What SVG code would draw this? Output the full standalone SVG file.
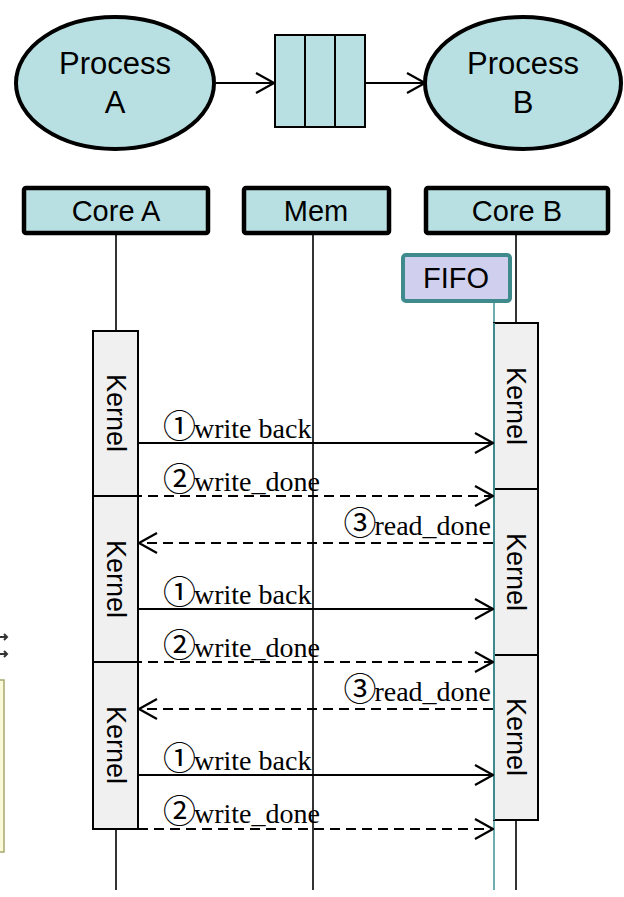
<svg xmlns="http://www.w3.org/2000/svg" width="624" height="897" viewBox="0 0 624 897">
<defs>
<style>
.proc{fill:#b8e0e3;stroke:#000;stroke-width:4}
.core{fill:#b8e0e3;stroke:#000;stroke-width:4.5}
.sans{font-family:"Liberation Sans",Arial,sans-serif;fill:#000}
.big{font-size:31px}
.hdr{font-size:29px}
.kern{fill:#f0f0f0;stroke:#000;stroke-width:2}
.ktxt{font-family:"Liberation Sans",Arial,sans-serif;font-size:27px;fill:#000}
.life{stroke:#000;stroke-width:1.6;fill:none}
.msg{stroke:#000;stroke-width:2;fill:none}
.dash{stroke-dasharray:10 6}
.lbl{font-family:"Liberation Serif","Times New Roman","Noto Sans CJK JP",serif;font-size:28px;fill:#000}
.num{font-family:"Noto Sans CJK JP","Noto Sans CJK SC",sans-serif;font-size:33px}
</style>
<marker id="arr" viewBox="0 0 20 22" markerWidth="20" markerHeight="22" refX="19" refY="11" orient="auto" markerUnits="userSpaceOnUse">
<path d="M1,1 L19,11 L1,21" fill="none" stroke="#000" stroke-width="2.2"/>
</marker>
</defs>

<!-- left edge fragments -->
<g id="edge-fragment">
<rect x="-20" y="680" width="24" height="172" fill="#fafad8" stroke="#a8a870" stroke-width="1.5"/>
<path d="M0,637 L7,637 M4,634 L7,637 L4,640" stroke="#333" stroke-width="2" fill="none"/>
<path d="M0,654 L7,654 M4,651 L7,654 L4,657" stroke="#333" stroke-width="2" fill="none"/>
</g>

<!-- top process diagram -->
<g id="process-a">
<ellipse class="proc" cx="115" cy="83" rx="99" ry="66"/>
<text class="sans big" x="115" y="74" text-anchor="middle">Process</text>
<text class="sans big" x="115" y="113" text-anchor="middle">A</text>
</g>
<g id="queue">
<rect x="275" y="35" width="90" height="92" fill="#b8e0e3" stroke="#000" stroke-width="2"/>
<line x1="305" y1="35" x2="305" y2="127" stroke="#000" stroke-width="2"/>
<line x1="335" y1="35" x2="335" y2="127" stroke="#000" stroke-width="2"/>
</g>
<g id="process-b">
<ellipse class="proc" cx="523" cy="83" rx="98" ry="66"/>
<text class="sans big" x="523" y="74" text-anchor="middle">Process</text>
<text class="sans big" x="523" y="113" text-anchor="middle">B</text>
</g>

<!-- lifeline headers -->
<g id="core-a">
<rect class="core" x="24" y="188" width="184" height="45" rx="2"/>
<text class="sans hdr" x="116" y="221" text-anchor="middle">Core A</text>
</g>
<g id="mem">
<rect class="core" x="244" y="188" width="145" height="45" rx="2"/>
<text class="sans hdr" x="316" y="221" text-anchor="middle">Mem</text>
</g>
<g id="core-b">
<rect class="core" x="426" y="188" width="182" height="45" rx="2"/>
<text class="sans hdr" x="517" y="221" text-anchor="middle">Core B</text>
</g>

<!-- lifelines -->
<g id="lifelines">
<line class="life" x1="116" y1="233" x2="116" y2="890"/>
<line class="life" x1="313" y1="233" x2="313" y2="890"/>
<line class="life" x1="516" y1="233" x2="516" y2="323"/>
<line class="life" x1="516" y1="820" x2="516" y2="890"/>
<line x1="494" y1="300" x2="494" y2="890" stroke="#4a9a9c" stroke-width="1.6"/>
</g>

<!-- FIFO -->
<g id="fifo">
<rect x="403" y="255" width="107" height="46" rx="3" fill="#d0d0ee" stroke="#3e8a8c" stroke-width="4"/>
<text class="sans hdr" x="456" y="288" text-anchor="middle">FIFO</text>
</g>

<!-- Core A kernels -->
<g id="kernel-a1">
<rect class="kern" x="93" y="331" width="45" height="165"/>
<text class="ktxt" transform="translate(115.5 413) rotate(90)" text-anchor="middle" dominant-baseline="central">Kernel</text>
</g>
<g id="kernel-a2">
<rect class="kern" x="93" y="496" width="45" height="166"/>
<text class="ktxt" transform="translate(115.5 579) rotate(90)" text-anchor="middle" dominant-baseline="central">Kernel</text>
</g>
<g id="kernel-a3">
<rect class="kern" x="93" y="662" width="45" height="167"/>
<text class="ktxt" transform="translate(115.5 745) rotate(90)" text-anchor="middle" dominant-baseline="central">Kernel</text>
</g>

<!-- Core B kernels -->
<g id="kernel-b1">
<rect class="kern" x="494" y="323" width="44" height="166"/>
<text class="ktxt" transform="translate(516 406) rotate(90)" text-anchor="middle" dominant-baseline="central">Kernel</text>
</g>
<g id="kernel-b2">
<rect class="kern" x="494" y="489" width="44" height="166"/>
<text class="ktxt" transform="translate(516 572) rotate(90)" text-anchor="middle" dominant-baseline="central">Kernel</text>
</g>
<g id="kernel-b3">
<rect class="kern" x="494" y="655" width="44" height="165"/>
<text class="ktxt" transform="translate(516 737) rotate(90)" text-anchor="middle" dominant-baseline="central">Kernel</text>
</g>
<line x1="494" y1="323" x2="494" y2="820" stroke="#3e8a8c" stroke-width="2"/>

<!-- connectors -->
<g id="connectors">
<line class="msg" x1="216" y1="83" x2="274" y2="83" marker-end="url(#arr)"/>
<line class="msg" x1="365" y1="83" x2="425" y2="83" marker-end="url(#arr)"/>

<line class="msg" x1="138" y1="443" x2="493" y2="443" marker-end="url(#arr)"/>
<line class="msg dash" x1="132" y1="496" x2="493" y2="496" marker-end="url(#arr)"/>
<line class="msg dash" x1="493" y1="543" x2="139" y2="543" marker-end="url(#arr)"/>

<line class="msg" x1="138" y1="609" x2="493" y2="609" marker-end="url(#arr)"/>
<line class="msg dash" x1="132" y1="662" x2="493" y2="662" marker-end="url(#arr)"/>
<line class="msg dash" x1="493" y1="709" x2="139" y2="709" marker-end="url(#arr)"/>

<line class="msg" x1="138" y1="775" x2="493" y2="775" marker-end="url(#arr)"/>
<line class="msg dash" x1="138" y1="829" x2="493" y2="829" marker-end="url(#arr)"/>
</g>

<!-- labels -->
<g id="labels">
<text class="lbl" x="163" y="438"><tspan class="num">①</tspan><tspan dx="-2">write back</tspan></text>
<text class="lbl" x="163" y="491"><tspan class="num">②</tspan><tspan dx="-2">write_done</tspan></text>
<text class="lbl" x="491" y="535" text-anchor="end"><tspan class="num">③</tspan><tspan dx="-2">read_done</tspan></text>
<text class="lbl" x="163" y="604"><tspan class="num">①</tspan><tspan dx="-2">write back</tspan></text>
<text class="lbl" x="163" y="657"><tspan class="num">②</tspan><tspan dx="-2">write_done</tspan></text>
<text class="lbl" x="491" y="701" text-anchor="end"><tspan class="num">③</tspan><tspan dx="-2">read_done</tspan></text>
<text class="lbl" x="163" y="770"><tspan class="num">①</tspan><tspan dx="-2">write back</tspan></text>
<text class="lbl" x="163" y="823"><tspan class="num">②</tspan><tspan dx="-2">write_done</tspan></text>
</g>
</svg>
